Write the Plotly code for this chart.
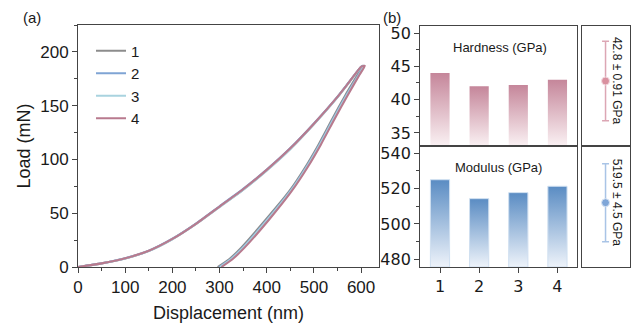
import plotly.graph_objects as go

# ---------------- data ----------------
# (a) load-displacement curves (nm, mN)
disp_load = [0, 50, 100, 150, 200, 250, 300, 350, 400, 450, 500, 550, 575, 600]
load_1 = [0, 3.4, 8.0, 15.0, 26.0, 40.0, 56.0, 72.0, 90.0, 110.0, 133.0, 158.0, 172.0, 186.0]
load_2 = [0, 3.5, 8.2, 15.2, 26.3, 40.4, 56.5, 72.6, 90.6, 110.6, 133.5, 158.4, 172.3, 186.2]
load_3 = [0, 3.3, 7.9, 14.9, 25.8, 39.8, 55.7, 71.6, 89.6, 109.5, 132.6, 157.7, 171.8, 185.9]
load_4 = [0, 3.4, 8.1, 15.1, 26.1, 40.2, 56.2, 72.3, 90.3, 110.3, 133.2, 158.2, 172.1, 186.1]

unload_load = [187, 179, 160, 137, 114, 93, 70, 43, 18, 7.5, 0]
unload_disp_1 = [604, 593, 567, 538, 510, 482, 447, 396, 346, 321, 296]
unload_disp_2 = [606, 595, 569, 540, 512, 484, 449, 399, 349, 324, 299]
unload_disp_3 = [607, 596, 570, 541, 513, 485, 450, 400, 350, 325, 301]
unload_disp_4 = [608, 597, 572, 543, 515, 487, 452, 403, 353, 328, 304]

test_names = ["1", "2", "3", "4"]
test_colors = ["#8c8c8c", "#7fa4d4", "#a9d3df", "#b87a8e"]

# (b) hardness and modulus per test
samples = [1, 2, 3, 4]
hardness = [44.0, 42.0, 42.2, 43.0]
modulus = [525.0, 514.3, 517.7, 521.3]
hardness_mean, hardness_sd = 42.8, 0.91
modulus_mean, modulus_sd = 519.5, 4.5

# ---------------- figure ----------------
FONT = "Arial, Liberation Sans, sans-serif"
FONT_B = "DejaVu Sans, sans-serif"
AX = "#444444"

fig = go.Figure()

loads = [load_1, load_2, load_3, load_4]
unloads = [unload_disp_1, unload_disp_2, unload_disp_3, unload_disp_4]
for name, col, ld, ud in zip(test_names, test_colors, loads, unloads):
    fig.add_trace(go.Scatter(
        x=disp_load + ud, y=ld + unload_load, mode="lines", name=name,
        line=dict(color=col, width=2.1, shape="spline", smoothing=0.5),
        xaxis="x", yaxis="y"))

h_range = [33.05, 51.05]
m_range = [475.6, 544.1]
half_w = 0.245

def add_bars(vals, base, xa, ya, c_lo, c_hi, edge, edge_w):
    for c, v in zip(samples, vals):
        fig.add_trace(go.Scatter(
            x=[c - half_w, c + half_w, c + half_w, c - half_w, c - half_w],
            y=[base, base, v, v, base],
            mode="lines", fill="toself",
            fillgradient=dict(type="vertical", colorscale=[[0, c_lo], [1, c_hi]]),
            line=dict(color=edge, width=edge_w),
            showlegend=False, hoverinfo="skip", xaxis=xa, yaxis=ya))

add_bars(hardness, h_range[0], "x2", "y2", "#faf1f3", "#c5869a", "rgba(0,0,0,0)", 0)
add_bars(modulus, m_range[0], "x3", "y3", "#eef3fa", "#5a8cc3", "#cfdff0", 1)

# mean +- sd panels
fig.add_trace(go.Scatter(
    x=[0.49], y=[hardness_mean], mode="markers",
    marker=dict(color="#d9909f", size=8, line=dict(color="#f3dce2", width=1)),
    error_y=dict(type="data", array=[hardness_sd], color="#dca6b4", thickness=1.5, width=3.5),
    showlegend=False, xaxis="x4", yaxis="y4"))
fig.add_trace(go.Scatter(
    x=[0.49], y=[modulus_mean], mode="markers",
    marker=dict(color="#7fa6d8", size=8, line=dict(color="#dbe6f5", width=1)),
    error_y=dict(type="data", array=[modulus_sd], color="#a9c4e6", thickness=1.5, width=3.5),
    showlegend=False, xaxis="x5", yaxis="y5"))

h_small = [hardness_mean - 1.484, hardness_mean + 1.256]
m_small = [modulus_mean - 7.42, modulus_mean + 6.54]

box = dict(showline=True, linecolor=AX, linewidth=1, mirror=True, zeroline=False,
           showgrid=False, automargin=False)

a_xdom = [0.1094, 0.5797]
a_ydom = [0.2175, 0.9486]
top_dom = [0.5831, 0.9456]
bot_dom = [0.2175, 0.5831]
bx_dom = [0.6438, 0.8891]
sx_dom = [0.8969, 0.9719]

fig.update_layout(
    width=640, height=331, margin=dict(l=0, r=0, t=0, b=0, autoexpand=False),
    paper_bgcolor="white", plot_bgcolor="white",
    font=dict(family=FONT, color="#1a1a1a"),
    showlegend=True,
    legend=dict(x=0.1297, y=0.92, xanchor="left", yanchor="top",
                bgcolor="rgba(0,0,0,0)", font=dict(size=15, family=FONT),
                tracegroupgap=0, itemwidth=30),
    xaxis=dict(domain=a_xdom, range=[0, 638], tickvals=[0, 100, 200, 300, 400, 500, 600],
               ticks="outside", ticklen=5, tickcolor=AX, tickfont=dict(size=17),
               minor=dict(ticks="outside", dtick=50, tick0=0, ticklen=3, tickcolor=AX),
               title=dict(text="Displacement (nm)", font=dict(size=18), standoff=9),
               anchor="y", **box),
    yaxis=dict(domain=a_ydom, range=[0, 225], tickvals=[0, 50, 100, 150, 200],
               ticks="outside", ticklen=5, tickcolor=AX, tickfont=dict(size=17),
               minor=dict(ticks="outside", dtick=25, tick0=0, ticklen=3, tickcolor=AX),
               title=dict(text="Load (mN)", font=dict(size=18), standoff=4),
               anchor="x", **box),
    xaxis2=dict(domain=bx_dom, range=[0.49, 4.5], showticklabels=False, ticks="",
                anchor="y2", **box),
    yaxis2=dict(domain=top_dom, range=h_range, tickvals=[35, 40, 45, 50],
                ticks="outside", ticklen=5, tickcolor=AX,
                tickfont=dict(size=16, family=FONT_B),
                minor=dict(ticks="outside", dtick=2.5, tick0=0, ticklen=3, tickcolor=AX),
                anchor="x2", **box),
    xaxis3=dict(domain=bx_dom, range=[0.49, 4.5], tickvals=samples,
                ticktext=[str(s) for s in samples],
                ticks="outside", ticklen=5, tickcolor=AX,
                tickfont=dict(size=16, family=FONT_B), anchor="y3", **box),
    yaxis3=dict(domain=bot_dom, range=m_range, tickvals=[480, 500, 520, 540],
                ticks="outside", ticklen=5, tickcolor=AX,
                tickfont=dict(size=16, family=FONT_B),
                minor=dict(ticks="outside", dtick=10, tick0=0, ticklen=3, tickcolor=AX),
                anchor="x3", **box),
    xaxis4=dict(domain=sx_dom, range=[0, 1], showticklabels=False, ticks="", anchor="y4", **box),
    yaxis4=dict(domain=top_dom, range=h_small, showticklabels=False, ticks="", anchor="x4", **box),
    xaxis5=dict(domain=sx_dom, range=[0, 1], showticklabels=False, ticks="", anchor="y5", **box),
    yaxis5=dict(domain=bot_dom, range=m_small, showticklabels=False, ticks="", anchor="x5", **box),
)

ann = [
    dict(text="(a)", x=0.022, y=1.0, xref="paper", yref="paper", xanchor="left",
         yanchor="top", showarrow=False, font=dict(size=15), borderpad=0),
    dict(text="(b)", x=0.585, y=1.0, xref="paper", yref="paper", xanchor="left",
         yanchor="top", showarrow=False, font=dict(size=15), borderpad=0),
    dict(text="Hardness (GPa)", x=0.51, y=0.9, xref="x2 domain", yref="y2 domain",
         showarrow=False, font=dict(size=13)),
    dict(text="Modulus (GPa)", x=0.497, y=0.9, xref="x3 domain", yref="y3 domain",
         showarrow=False, font=dict(size=13)),
    dict(text=f"{hardness_mean} ± {hardness_sd} GPa", x=0.73, y=hardness_mean,
         xref="x4", yref="y4", textangle=90, showarrow=False, font=dict(size=12)),
    dict(text=f"{modulus_mean} ± {modulus_sd} GPa", x=0.73, y=modulus_mean,
         xref="x5", yref="y5", textangle=90, showarrow=False, font=dict(size=12)),
]
fig.update_layout(annotations=ann)

fig.write_html("out.html")
